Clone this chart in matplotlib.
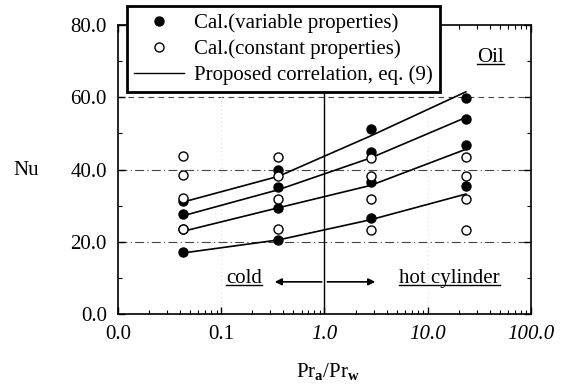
import matplotlib.pyplot as plt
from matplotlib.lines import Line2D

plt.rcParams['font.family'] = ['Liberation Serif', 'DejaVu Serif']
plt.rcParams['mathtext.fontset'] = 'custom'
plt.rcParams['mathtext.rm'] = 'Liberation Serif'
plt.rcParams['mathtext.bf'] = 'Liberation Serif:bold'

# Pr_a / Pr_w at the four computed cases
pr_ratio = [0.0427, 0.357, 2.8, 23.4]

# Nu, variable properties (four Rayleigh numbers)
nu_var_1 = [31.3, 40.0, 51.1, 59.7]
nu_var_2 = [27.6, 35.1, 44.8, 54.1]
nu_var_3 = [23.6, 29.3, 36.5, 46.7]
nu_var_4 = [17.1, 20.4, 26.6, 35.4]

# Nu, constant properties
nu_const_1 = [43.7, 43.4, 43.2, 43.4]
nu_const_2 = [38.4, 38.1, 38.1, 38.1]
nu_const_3 = [32.1, 31.9, 31.9, 31.9]
nu_const_4 = [23.6, 23.6, 23.3, 23.3]

# Proposed correlation, eq. (9)
nu_corr_1 = [31.0, 38.1, 49.3, 61.5]
nu_corr_2 = [27.2, 34.4, 43.2, 54.4]
nu_corr_3 = [22.9, 29.4, 35.6, 45.6]
nu_corr_4 = [16.9, 20.5, 26.1, 33.2]

x_ticks = [0.01, 0.1, 1.0, 10.0, 100.0]
x_tick_labels = ['0.0', '0.1', '1.0', '10.0', '100.0']
y_ticks = [0, 20, 40, 60, 80]
y_tick_labels = ['0.0', '20.0', '40.0', '60.0', '80.0']

FS = 15

fig = plt.figure(figsize=(5.61, 3.87), dpi=100)
ax = fig.add_axes([0.2103, 0.1886, 0.7362, 0.7468])

ax.set_xscale('log')
ax.set_xlim(0.01, 100)
ax.set_ylim(0, 80)

# grid lines and the Pr_a/Pr_w = 1 divider
for yv in [20, 40]:
    ax.axhline(yv, color='#444444', lw=0.8, ls=(0, (8, 3, 1, 3)), zorder=1)
ax.axhline(60, color='#444444', lw=0.8, ls=(0, (5, 4)), zorder=1)
for xv in [0.1, 10.0]:
    ax.axvline(xv, color='#cccccc', lw=0.6, ls=(0, (1, 4)), zorder=1)
ax.axvline(1.0, color='black', lw=1.0, zorder=1)

for nu in [nu_corr_1, nu_corr_2, nu_corr_3, nu_corr_4]:
    ax.plot(pr_ratio, nu, color='black', lw=1.2, zorder=2)
for nu in [nu_var_1, nu_var_2, nu_var_3, nu_var_4]:
    ax.plot(pr_ratio, nu, 'o', color='black', ms=6.5, ls='none', zorder=3)
for nu in [nu_const_1, nu_const_2, nu_const_3, nu_const_4]:
    ax.plot(pr_ratio, nu, 'o', mfc='white', mec='black', mew=1.0, ms=6.5,
            ls='none', zorder=4)

ax.set_xticks(x_ticks)
ax.set_xticklabels(x_tick_labels, fontsize=FS)
for lbl, txt in zip(ax.get_xticklabels(), x_tick_labels):
    if txt in ('1.0', '10.0', '100.0'):
        lbl.set_style('italic')
ax.set_yticks(y_ticks)
ax.set_yticklabels(y_tick_labels, fontsize=FS)
ax.set_yticks([10, 30, 50, 70], minor=True)

ax.tick_params(which='both', direction='in', top=True, right=True)
ax.tick_params(which='major', length=5, width=1.0, pad=8)
ax.tick_params(which='minor', length=3, width=0.8)
for sp in ax.spines.values():
    sp.set_linewidth(1.2)

fig.text(0.046, 1 - 170 / 387, 'Nu', fontsize=FS, ha='center', va='center')
fig.text(0.585, 1 - 372 / 387, r'Pr$_{\mathbf{a}}$/Pr$_{\mathbf{w}}$',
         fontsize=FS, ha='center', va='center')

# cold / hot cylinder arrow
ax.annotate('', xy=(0.31, 8.9), xytext=(1.0, 8.9),
            arrowprops=dict(arrowstyle='-|>', color='black', lw=1.2,
                            mutation_scale=10))
ax.annotate('', xy=(3.3, 8.9), xytext=(1.0, 8.9),
            arrowprops=dict(arrowstyle='-|>', color='black', lw=1.2,
                            mutation_scale=10))
t_cold = ax.text(0.112, 9.8, 'cold', fontsize=FS, ha='left', va='center')
t_hot = ax.text(5.3, 9.8, 'hot cylinder', fontsize=FS, ha='left', va='center')
t_oil = ax.text(30.0, 71.0, 'Oil', fontsize=FS, ha='left', va='center')

handles = [
    Line2D([], [], marker='o', color='black', ls='none', ms=6.5),
    Line2D([], [], marker='o', mfc='white', mec='black', mew=1.0, ls='none', ms=6.5),
    Line2D([], [], color='black', lw=1.0),
]
labels = ['Cal.(variable properties)', 'Cal.(constant properties)',
          'Proposed correlation, eq. (9)']
leg = fig.legend(handles, labels, loc='upper left',
                 bbox_to_anchor=(127 / 561, 1 - 6 / 387), fontsize=FS,
                 frameon=True, fancybox=False, framealpha=1, edgecolor='black',
                 borderpad=0.35, labelspacing=0.3, handlelength=2.4,
                 handletextpad=0.45, borderaxespad=0)
leg.get_frame().set_linewidth(2.0)
leg.set_zorder(10)

# underline the annotation labels
fig.canvas.draw()
renderer = fig.canvas.get_renderer()
inv = fig.transFigure.inverted()
for t in [t_cold, t_hot, t_oil]:
    bb = t.get_window_extent(renderer)
    (x0, y0), (x1, _) = inv.transform([[bb.x0, bb.y0], [bb.x1, bb.y1]])
    fig.add_artist(Line2D([x0, x1], [y0 + 0.008, y0 + 0.008],
                          transform=fig.transFigure, color='black', lw=1.0))

fig.savefig('out.png', dpi=100)
